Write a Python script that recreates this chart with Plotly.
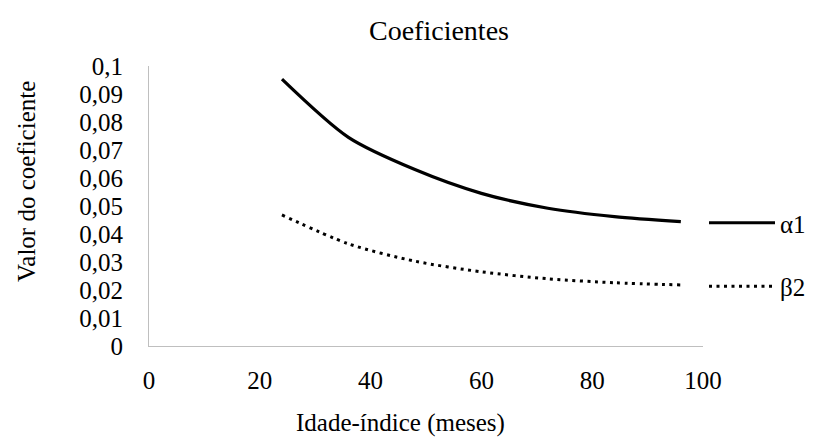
import plotly.graph_objects as go

# Data
idade = [24, 36, 48, 60, 72, 84, 96]
alpha1 = [0.0953, 0.0745, 0.0630, 0.0545, 0.0492, 0.0462, 0.0444]
beta2 = [0.0468, 0.0365, 0.0303, 0.0265, 0.0240, 0.0226, 0.0218]

y_tickvals = [0, 0.01, 0.02, 0.03, 0.04, 0.05, 0.06, 0.07, 0.08, 0.09, 0.1]
y_ticktext = ["0", "0,01", "0,02", "0,03", "0,04", "0,05", "0,06", "0,07", "0,08", "0,09", "0,1"]
x_tickvals = [0, 20, 40, 60, 80, 100]

FONT = "Liberation Serif"

fig = go.Figure()
fig.add_trace(go.Scatter(
    x=idade, y=alpha1, name="α1", mode="lines", legendgroup="a",
    line=dict(color="black", width=3.2, shape="spline", smoothing=0.8),
))
fig.add_trace(go.Scatter(
    x=idade, y=beta2, name="β2", mode="lines", legendgroup="b",
    line=dict(color="black", width=3, dash="3px,4.5px", shape="spline", smoothing=0.8),
))

# page body has an 8px margin; work in page coordinates and shift
OFF = 8
PW, PH = 816, 439
W, H = PW + 40, PH - OFF
PX0, PX1, PY0, PY1 = 149, 703, 66, 346   # plot area in page pixels
L, T = PX0 - OFF, PY0 - OFF
R, B = W - (PX1 - OFF), H - (PY1 - OFF)
PWID, PHGT = PX1 - PX0, PY1 - PY0


def px(x):
    return (x - PX0) / PWID


def py(y):
    return (PY1 - y) / PHGT


fig.update_layout(
    width=W, height=H,
    margin=dict(l=L, r=R, t=T, b=B, pad=0, autoexpand=False),
    paper_bgcolor="white", plot_bgcolor="white",
    font=dict(family=FONT, size=25, color="black"),
    title=dict(text="Coeficientes", font=dict(family=FONT, size=28, color="black"),
               x=px(439), xref="paper", xanchor="center",
               y=1 - (30 - OFF) / H, yref="container", yanchor="middle"),
    showlegend=True,
    legend=dict(
        x=px(704), xanchor="left",
        y=py(200), yanchor="top",
        traceorder="grouped", tracegroupgap=28,
        itemwidth=66, font=dict(family=FONT, size=25, color="black"),
        bgcolor="rgba(0,0,0,0)",
    ),
    xaxis=dict(
        range=[0, 100], tickvals=x_tickvals, showgrid=False, zeroline=False,
        showline=True, linecolor="#bfbfbf", linewidth=1, ticks="",
        ticklabelstandoff=12, tickfont=dict(family=FONT, size=25),
    ),
    yaxis=dict(
        range=[0, 0.1], tickvals=y_tickvals, ticktext=y_ticktext,
        showgrid=False, zeroline=False,
        showline=True, linecolor="#bfbfbf", linewidth=1, ticks="",
        ticklabelstandoff=20, tickfont=dict(family=FONT, size=25),
    ),
    annotations=[
        dict(text="Idade-índice (meses)", xref="paper", yref="paper",
             x=px(400), y=py(423),
             xanchor="center", yanchor="middle", showarrow=False,
             font=dict(family=FONT, size=25, color="black")),
        dict(text="Valor do coeficiente", xref="paper", yref="paper",
             x=px(26), y=py(182),
             xanchor="center", yanchor="middle", showarrow=False, textangle=-90,
             font=dict(family=FONT, size=25, color="black")),
    ],
)

fig.write_html("out.html")
